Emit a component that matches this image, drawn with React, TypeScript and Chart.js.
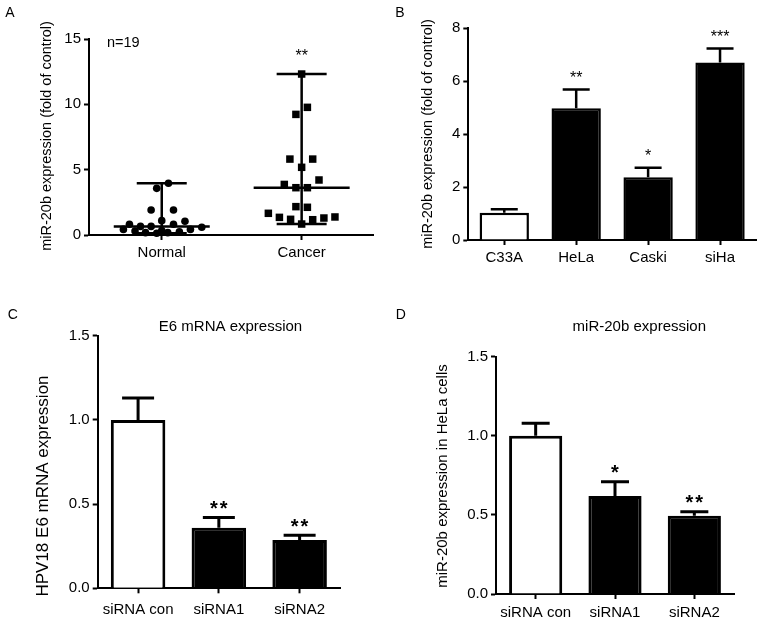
import React, { useEffect, useRef } from 'react';
import { Chart, registerables } from 'chart.js';

Chart.register(...registerables);

const FONT = '"Liberation Sans", Arial, Helvetica, sans-serif';

// ---------- Panel A: scatter (median with range) ----------
const groupsA = ['Normal', 'Cancer'];
const normalValues = [3.96, 3.57, 1.91, 1.91, 1.1, 1.05, 0.82, 0.82, 0.66, 0.66, 0.59, 0.43, 0.43, 0.3, 0.18, 0.13, 0.18, 0.25, 0.35];
const normalJitter = [0.048, -0.036, -0.076, 0.084, 0, 0.166, -0.231, 0.084, -0.152, -0.076, 0.286, -0.274, 0.205, -0.191, -0.116, -0.036, 0.043, 0.126, 0];
const cancerValues = [12.32, 9.77, 9.23, 5.81, 5.81, 5.18, 4.21, 3.87, 3.62, 3.62, 2.17, 2.12, 1.66, 1.35, 1.38, 1.2, 1.3, 1.17, 0.84];
const cancerJitter = [0, 0.041, -0.041, -0.084, 0.079, 0, 0.124, -0.124, -0.041, 0.041, -0.041, 0.041, -0.238, -0.159, 0.238, -0.079, 0.159, 0.079, 0];
const yTicksA = [0, 5, 10, 15];
const starsA = ['', '**'];
const sampleLabelA = 'n=19';
const yTitleA = 'miR-20b expression (fold of control)';

// ---------- Panel B ----------
const cellLinesB = ['C33A', 'HeLa', 'Caski', 'siHa'];
const meanB = [1.03, 4.98, 2.37, 6.71];
const semB = [0.13, 0.71, 0.36, 0.53];
const starsB = ['', '**', '*', '***'];
const yTicksB = [0, 2, 4, 6, 8];
const yTitleB = 'miR-20b expression (fold of control)';

// ---------- Panel C ----------
const groupsC = ['siRNA con', 'siRNA1', 'siRNA2'];
const meanC = [1.0, 0.36, 0.287];
const semC = [0.13, 0.06, 0.028];
const starsC = ['', '**', '**'];
const yTicksC = [0, 0.5, 1.0, 1.5];
const titleC = 'E6 mRNA expression';
const yTitleC = 'HPV18 E6 mRNA expression';

// ---------- Panel D ----------
const groupsD = ['siRNA con', 'siRNA1', 'siRNA2'];
const meanD = [1.0, 0.62, 0.495];
const semD = [0.08, 0.09, 0.025];
const starsD = ['', '*', '**'];
const yTicksD = [0, 0.5, 1.0, 1.5];
const titleD = 'miR-20b expression';
const yTitleD = 'miR-20b expression in HeLa cells';

const TICK_SIZE = 15;

type TextItem = { text: string; x: number; y: number; size: number; rotate?: number; align?: CanvasTextAlign; bold?: boolean };

function makeTexts(items: TextItem[]) {
  return {
    id: 'texts',
    afterDraw(chart: any) {
      const ctx = chart.ctx;
      items.forEach((it) => {
        ctx.save();
        ctx.fillStyle = '#000';
        ctx.font = `${it.bold ? 'bold ' : ''}${it.size}px ${FONT}`;
        ctx.textAlign = it.align || 'center';
        ctx.textBaseline = 'middle';
        ctx.translate(it.x, it.y);
        if (it.rotate) ctx.rotate(it.rotate);
        ctx.fillText(it.text, 0, 0);
        ctx.restore();
      });
    },
  };
}

function drawStars(ctx: CanvasRenderingContext2D, text: string, x: number, cy: number, size: number, bold: boolean, spacing: number) {
  if (!text) return;
  ctx.save();
  ctx.fillStyle = '#000';
  ctx.font = `${bold ? 'bold ' : ''}${size}px ${FONT}`;
  (ctx as any).letterSpacing = `${spacing}px`;
  ctx.textAlign = 'center';
  ctx.textBaseline = 'alphabetic';
  ctx.fillText(text, x + spacing / 2, cy + 0.57 * size);
  ctx.restore();
}

function makeErrorBars(sem: number[], stars: string[], o: { capHalf: number; lw: number; starSize: number; starOffset: number; starBold: boolean; spacing: number }) {
  return {
    id: 'errorBars',
    afterDatasetsDraw(chart: any) {
      const ctx = chart.ctx as CanvasRenderingContext2D;
      const meta = chart.getDatasetMeta(0);
      const ys = chart.scales.y;
      const data = chart.data.datasets[0].data as number[];
      meta.data.forEach((el: any, i: number) => {
        const top = ys.getPixelForValue(data[i] + sem[i]);
        ctx.save();
        ctx.strokeStyle = '#000';
        ctx.lineWidth = o.lw;
        ctx.beginPath();
        ctx.moveTo(el.x, el.y);
        ctx.lineTo(el.x, top);
        ctx.moveTo(el.x - o.capHalf, top);
        ctx.lineTo(el.x + o.capHalf, top);
        ctx.stroke();
        ctx.restore();
        drawStars(ctx, stars[i], el.x, top - o.starOffset, o.starSize, o.starBold, o.spacing);
      });
    },
  };
}

function median(a: number[]) {
  const s = [...a].sort((p, q) => p - q);
  const m = Math.floor(s.length / 2);
  return s.length % 2 ? s[m] : (s[m - 1] + s[m]) / 2;
}

const rangePlugin = {
  id: 'rangeLines',
  beforeDatasetsDraw(chart: any) {
    const ctx = chart.ctx as CanvasRenderingContext2D;
    const xs = chart.scales.x;
    const ys = chart.scales.y;
    [normalValues, cancerValues].forEach((vals, i) => {
      const cx = xs.getPixelForValue(i + 1);
      const yMin = ys.getPixelForValue(Math.min(...vals));
      const yMax = ys.getPixelForValue(Math.max(...vals));
      const yMed = ys.getPixelForValue(median(vals));
      ctx.save();
      ctx.strokeStyle = '#000';
      ctx.lineWidth = 2.5;
      ctx.beginPath();
      ctx.moveTo(cx, yMin);
      ctx.lineTo(cx, yMax);
      ctx.moveTo(cx - 25, yMax);
      ctx.lineTo(cx + 25, yMax);
      ctx.moveTo(cx - 25, yMin);
      ctx.lineTo(cx + 25, yMin);
      ctx.moveTo(cx - 48, yMed);
      ctx.lineTo(cx + 48, yMed);
      ctx.stroke();
      ctx.restore();
    });
  },
  afterDatasetsDraw(chart: any) {
    const xs = chart.scales.x;
    const ys = chart.scales.y;
    [normalValues, cancerValues].forEach((vals, i) => {
      const top = ys.getPixelForValue(Math.max(...vals));
      drawStars(chart.ctx, starsA[i], xs.getPixelForValue(i + 1), top - 22, 16, false, 0);
    });
  },
};

function axisStyle(size: number, pad: number) {
  return {
    ticks: { color: '#000', font: { family: FONT, size }, padding: pad, maxRotation: 0, autoSkip: false },
    grid: { display: true, drawOnChartArea: false, drawTicks: true, tickLength: 5, tickWidth: 2, tickColor: '#000', offset: false },
    border: { display: true, color: '#000', width: 2 },
  };
}

function yScale(ticksArr: number[], width: number, decimals: number) {
  const base = axisStyle(TICK_SIZE, 3);
  return {
    type: 'linear',
    min: ticksArr[0],
    max: ticksArr[ticksArr.length - 1],
    afterBuildTicks: (s: any) => { s.ticks = ticksArr.map((v) => ({ value: v })); },
    afterFit: (s: any) => { s.width = width; },
    ...base,
    ticks: { ...base.ticks, callback: (v: any) => Number(v).toFixed(decimals) },
  };
}

function barConfig(labels: string[], mean: number[], sem: number[], stars: string[], geo: any, texts: TextItem[], ticksArr: number[], decimals: number, barOpts: any) {
  return {
    type: 'bar',
    data: {
      labels,
      datasets: [{
        data: mean,
        backgroundColor: mean.map((_, i) => (i === 0 ? '#ffffff' : '#000000')),
        borderColor: '#000',
        borderWidth: barOpts.borderWidth,
        barPercentage: barOpts.barPct,
        categoryPercentage: 1,
      }],
    },
    options: {
      responsive: false,
      animation: false,
      devicePixelRatio: 1,
      events: [],
      layout: { padding: { top: geo.top, right: geo.right, left: 0, bottom: 0 } },
      plugins: { legend: { display: false }, tooltip: { enabled: false }, title: { display: false } },
      scales: {
        x: {
          type: 'category',
          offset: true,
          afterFit: (s: any) => { s.height = geo.xHeight; },
          ...axisStyle(TICK_SIZE, geo.xPad),
        },
        y: yScale(ticksArr, geo.yWidth, decimals),
      },
    },
    plugins: [makeErrorBars(sem, stars, barOpts.err), makeTexts(texts)],
  };
}

function buildA() {
  return {
    type: 'scatter',
    data: {
      datasets: [
        {
          data: normalValues.map((v, i) => ({ x: 1 + normalJitter[i], y: v })),
          pointStyle: 'circle',
          pointRadius: 3.8,
          backgroundColor: '#000',
          borderWidth: 0,
          clip: false,
        },
        {
          data: cancerValues.map((v, i) => ({ x: 2 + cancerJitter[i], y: v })),
          pointStyle: 'rect',
          pointRadius: 5.3,
          backgroundColor: '#000',
          borderWidth: 0,
          clip: false,
        },
      ],
    },
    options: {
      responsive: false,
      animation: false,
      devicePixelRatio: 1,
      events: [],
      layout: { padding: { top: 39, right: 7, left: 0, bottom: 0 } },
      plugins: { legend: { display: false }, tooltip: { enabled: false } },
      scales: {
        x: {
          type: 'linear',
          min: 0.48,
          max: 2.51,
          afterBuildTicks: (s: any) => { s.ticks = groupsA.map((_, i) => ({ value: i + 1 })); },
          afterFit: (s: any) => { s.height = 65; },
          ...axisStyle(TICK_SIZE, 4),
          ticks: { ...axisStyle(TICK_SIZE, 4).ticks, callback: (v: any) => groupsA[Math.round(v) - 1] },
        },
        y: yScale(yTicksA, 89, 0),
      },
    },
    plugins: [
      rangePlugin,
      makeTexts([
        { text: 'A', x: 10, y: 13, size: 14 },
        { text: sampleLabelA, x: 107, y: 43, size: 14.5, align: 'left' },
        { text: yTitleA, x: 47, y: 136, size: 14.5, rotate: -Math.PI / 2 },
      ]),
    ],
  };
}

function buildB() {
  return barConfig(cellLinesB, meanB, semB, starsB,
    { top: 28.3, right: 5, xHeight: 60, yWidth: 88.3, xPad: 4 },
    [
      { text: 'B', x: 20, y: 13, size: 14 },
      { text: yTitleB, x: 48, y: 134, size: 14.5, rotate: -Math.PI / 2 },
    ],
    yTicksB, 0,
    { borderWidth: 2.5, barPct: 0.686, err: { capHalf: 13.5, lw: 2.5, starSize: 16, starOffset: 16, starBold: false, spacing: 0 } });
}

function buildC() {
  return barConfig(groupsC, meanC, semC, starsC,
    { top: 35.7, right: 40, xHeight: 35.7, yWidth: 97.7, xPad: 8 },
    [
      { text: 'C', x: 12.7, y: 15, size: 14 },
      { text: titleC, x: 230.5, y: 26.7, size: 15 },
      { text: yTitleC, x: 43.3, y: 186, size: 17, rotate: -Math.PI / 2 },
    ],
    yTicksC, 1,
    { borderWidth: 3, barPct: 0.675, err: { capHalf: 16, lw: 3, starSize: 20, starOffset: 13.5, starBold: true, spacing: 2 } });
}

function buildD() {
  return barConfig(groupsD, meanD, semD, starsD,
    { top: 56.7, right: 27, xHeight: 30, yWidth: 116, xPad: 5 },
    [
      { text: 'D', x: 20.7, y: 15, size: 14 },
      { text: titleD, x: 259.3, y: 26.7, size: 15 },
      { text: yTitleD, x: 63, y: 176, size: 15, rotate: -Math.PI / 2 },
    ],
    yTicksD, 1,
    { borderWidth: 3, barPct: 0.67, err: { capHalf: 14, lw: 3, starSize: 20, starOffset: 14, starBold: true, spacing: 2 } });
}

function Panel({ left, top, width, height, build }: { left: number; top: number; width: number; height: number; build: () => any }) {
  const ref = useRef<HTMLCanvasElement>(null);
  useEffect(() => {
    const chart = new Chart(ref.current as HTMLCanvasElement, build());
    return () => chart.destroy();
  }, []);
  return (
    <canvas
      ref={ref}
      width={width}
      height={height}
      style={{ position: 'absolute', left, top, width, height, display: 'block' }}
    />
  );
}

export default function App() {
  return (
    <div style={{ position: 'absolute', left: 0, top: 0, width: 761, height: 624, background: '#fff', overflow: 'hidden' }}>
      <Panel left={0} top={0} width={380} height={300} build={buildA} />
      <Panel left={380} top={0} width={381} height={300} build={buildB} />
      <Panel left={0} top={300} width={380} height={324} build={buildC} />
      <Panel left={380} top={300} width={381} height={324} build={buildD} />
    </div>
  );
}
